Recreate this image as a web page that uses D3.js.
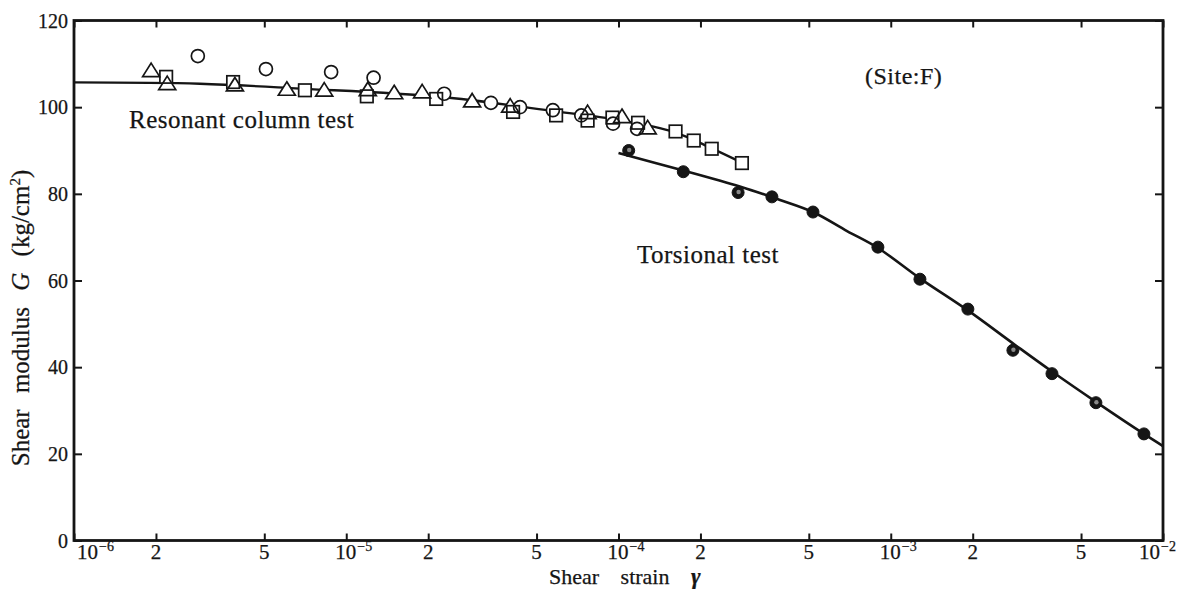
<!DOCTYPE html>
<html><head><meta charset="utf-8">
<script src="https://cdn.jsdelivr.net/npm/d3@7"></script>
<style>
body{margin:0;background:#fff}
svg{display:block}
text{font-family:"Liberation Serif","Times New Roman",serif;fill:#151515;stroke:#151515;stroke-width:0.25px}
</style>
</head><body>
<svg id="chart" width="1181" height="589"></svg>
<script>
// ---- data (shear strain, shear modulus G kg/cm2) ----
const xTickValues = [1e-6,2e-6,5e-6,1e-5,2e-5,5e-5,1e-4,2e-4,5e-4,1e-3,2e-3,5e-3,1e-2];
const xTickLabels = ["10^−6","2","5","10^−5","2","5","10^−4","2","5","10^−3","2","5","10^−2"];
const yTickValues = [0,20,40,60,80,100,120];

const resonantTriangles = [[1.92e-6,108.2],[2.2e-6,105.2],[3.9e-6,104.9],[6.05e-6,103.9],[8.3e-6,103.7],
  [1.2e-5,103.8],[1.5e-5,103.1],[1.9e-5,103.3],[2.9e-5,101.2],[4.0e-5,100.0],[7.7e-5,98.5],[1.03e-4,97.6],[1.28e-4,95.0]];
const resonantSquares = [[2.18e-6,107.0],[3.84e-6,105.8],[7.05e-6,103.9],[1.19e-5,102.5],[2.14e-5,101.9],
  [4.1e-5,98.9],[5.9e-5,98.1],[7.7e-5,96.9],[9.5e-5,97.6],[1.18e-4,96.4],[1.62e-4,94.4],[1.89e-4,92.3],[2.2e-4,90.4],[2.84e-4,87.1]];
const resonantCircles = [[2.85e-6,111.8],[5.07e-6,108.8],[8.8e-6,108.1],[1.26e-5,106.8],[2.29e-5,103.1],
  [3.4e-5,101.0],[4.35e-5,100.0],[5.74e-5,99.3],[7.3e-5,98.1],[9.55e-5,96.2],[1.17e-4,95.0]];
const torsionalPoints = [[1.09e-4,90.0],[1.73e-4,85.1],[2.75e-4,80.3],[3.66e-4,79.3],[5.18e-4,75.8],[8.97e-4,67.7],
  [1.28e-3,60.3],[1.92e-3,53.4],[2.81e-3,43.9],[3.91e-3,38.5],[5.67e-3,31.8],[8.51e-3,24.6]];
const torsionalSpeckled = [0,2,8,10];

const resonantCurve = [[1e-6,105.7],[2.9e-6,105.4],[6.76e-6,104.3],[2.21e-5,102.4],[5.6e-5,99.2],
  [1.01e-4,97.0],[1.61e-4,94.2],[2.2e-4,90.5],[2.84e-4,87.2]];
const torsionalCurve = [[1.0e-4,89.4],[1.73e-4,85.4],[2.79e-4,81.7],[3.92e-4,78.6],[5.18e-4,75.8],[6.91e-4,71.4],
  [8.98e-4,67.5],[1.28e-3,60.5],[1.92e-3,53.1],[2.81e-3,45.5],[3.91e-3,39.0],[5.67e-3,32.0],[8.51e-3,24.6],[1.0e-2,21.8]];

// ---- drawing ----
const svg = d3.select("#chart");
const x = d3.scaleLog().domain([1e-6,1e-2]).range([74,1163]);
const y = d3.scaleLinear().domain([0,120]).range([540.5,20.5]);
const ink = "#151515";

// ticks via axes
const gB = svg.append("g").attr("transform",`translate(0,${y(0)})`)
  .call(d3.axisBottom(x).tickValues(xTickValues).tickSizeInner(-7).tickSizeOuter(0).tickFormat(""));
const gT = svg.append("g").attr("transform",`translate(0,${y(120)})`)
  .call(d3.axisTop(x).tickValues(xTickValues).tickSizeInner(-7).tickSizeOuter(0).tickFormat(""));
const gL = svg.append("g").attr("transform",`translate(${x(1e-6)},0)`)
  .call(d3.axisLeft(y).tickValues(yTickValues).tickSizeInner(-8).tickSizeOuter(0).tickPadding(6));
const gR = svg.append("g").attr("transform",`translate(${x(1e-2)},0)`)
  .call(d3.axisRight(y).tickValues(yTickValues).tickSizeInner(-8).tickSizeOuter(0).tickFormat(""));
[gB,gT,gL,gR].forEach(g=>{
  g.attr("font-family",null);
  g.select(".domain").remove();
  g.selectAll(".tick line").attr("stroke",ink).attr("stroke-width",2);
});
gL.selectAll(".tick text").attr("font-size",20).attr("fill",ink).attr("dy","0.34em");

// frame
svg.append("rect").attr("x",x(1e-6)).attr("y",y(120))
  .attr("width",x(1e-2)-x(1e-6)).attr("height",y(0)-y(120))
  .attr("fill","none").attr("stroke",ink).attr("stroke-width",2.8);

// x tick labels
const xl = svg.append("g");
xTickValues.forEach((v,i)=>{
  const lab = xTickLabels[i];
  let cx = x(v);
  if(i===0) cx += 14;
  if(i===xTickValues.length-1) cx -= 13;
  if(lab.includes("^")){
    const [b,e] = lab.split("^");
    const t = xl.append("text").attr("x",cx-11).attr("y",559).attr("text-anchor","start").attr("font-size",21);
    t.append("tspan").text(b);
    t.append("tspan").attr("dy",-8).attr("dx",1).attr("font-size",14).text(e);
  } else {
    xl.append("text").attr("x",cx).attr("y",559).attr("text-anchor","middle")
      .attr("font-size",21).text(lab);
  }
});

// curves
const line = d3.line().x(d=>x(d[0])).y(d=>y(d[1])).curve(d3.curveCatmullRom.alpha(0.5));
svg.append("path").attr("d",line(resonantCurve)).attr("fill","none").attr("stroke",ink).attr("stroke-width",2.3);
svg.append("path").attr("d",line(torsionalCurve)).attr("fill","none").attr("stroke",ink).attr("stroke-width",2.6);

// markers: white fills first, then outlines so overlapping outlines stay visible
const triPath = "M0,-8.5L8.5,5L-8.5,5Z";
const sq = 12.5;
const fillLayer = svg.append("g"), strokeLayer = svg.append("g");
[[fillLayer,"#fff","none"],[strokeLayer,"none",ink]].forEach(([g,f,s])=>{
  g.selectAll(".tri").data(resonantTriangles).join("path").attr("class","tri")
    .attr("d",triPath).attr("transform",d=>`translate(${x(d[0])},${y(d[1])})`)
    .attr("fill",f).attr("stroke",s).attr("stroke-width",1.7);
  g.selectAll(".sq").data(resonantSquares).join("rect").attr("class","sq")
    .attr("x",d=>x(d[0])-sq/2).attr("y",d=>y(d[1])-sq/2).attr("width",sq).attr("height",sq)
    .attr("fill",f).attr("stroke",s).attr("stroke-width",1.7);
  g.selectAll(".ci").data(resonantCircles).join("circle").attr("class","ci")
    .attr("cx",d=>x(d[0])).attr("cy",d=>y(d[1])).attr("r",6.5)
    .attr("fill",f).attr("stroke",s).attr("stroke-width",1.7);
});
svg.append("g").selectAll("circle").data(torsionalPoints).join("circle")
  .attr("cx",d=>x(d[0])).attr("cy",d=>y(d[1])).attr("r",6)
  .attr("fill",ink).attr("stroke",ink).attr("stroke-width",1);
svg.append("g").selectAll("circle").data(torsionalSpeckled.map(i=>torsionalPoints[i])).join("circle")
  .attr("cx",d=>x(d[0])+0.5).attr("cy",d=>y(d[1])-0.5).attr("r",2.2).attr("fill","#8a8a8a");

// annotations
svg.append("text").attr("x",129).attr("y",128).attr("font-size",25).attr("letter-spacing",0.5)
  .text("Resonant column test");
svg.append("text").attr("x",637).attr("y",263).attr("font-size",25).attr("letter-spacing",0.5)
  .text("Torsional test");
svg.append("text").attr("x",865).attr("y",84).attr("font-size",24).attr("letter-spacing",0.5)
  .text("(Site:F)");

// axis titles
const xt = svg.append("text").attr("x",549).attr("y",583.5).attr("font-size",22).attr("word-spacing",16);
xt.append("tspan").text("Shear strain ");
xt.append("tspan").attr("font-style","italic").attr("font-weight","bold").attr("font-size",23).text("γ");

const yt = svg.append("text").attr("transform","translate(29,318) rotate(-90)")
  .attr("text-anchor","middle").attr("font-size",25).attr("word-spacing",10);
yt.append("tspan").text("Shear modulus ");
yt.append("tspan").attr("font-style","italic").text("G");
yt.append("tspan").text(" (kg/cm");
yt.append("tspan").attr("font-size",15).attr("dy",-9).text("2");
yt.append("tspan").attr("dy",9).text(")");
</script>
</body></html>
